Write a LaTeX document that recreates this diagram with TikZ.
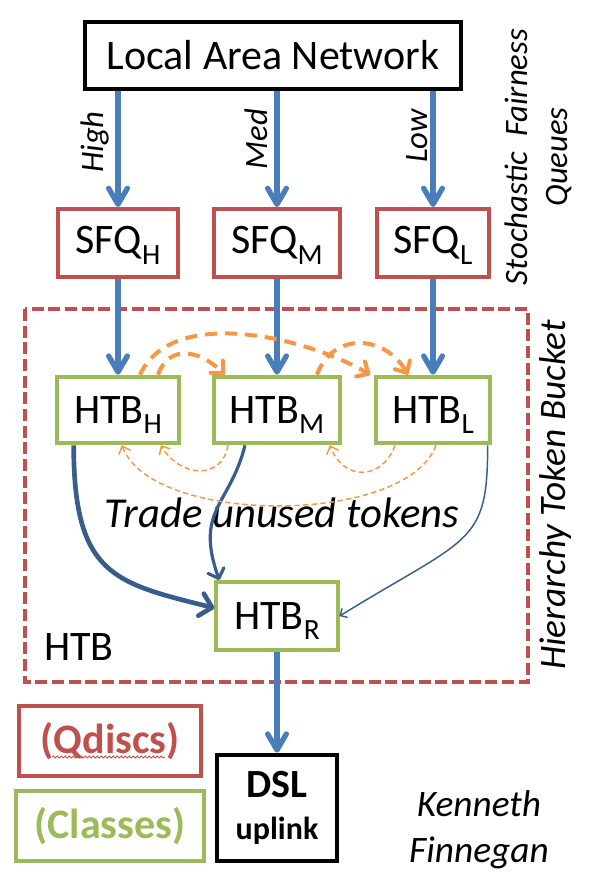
\documentclass[tikz,border=0pt]{standalone}
\usepackage{fontspec}
\setmainfont{Carlito}
\usetikzlibrary{arrows.meta,calc,decorations.pathmorphing}

\definecolor{lanblue}{HTML}{4A7EBB}
\definecolor{darkblue}{HTML}{385D8A}
\definecolor{qred}{HTML}{C0504D}
\definecolor{cgreen}{HTML}{9BBB59}
\definecolor{tokorange}{HTML}{F79646}

% subscript as in the slides
\newcommand{\lowsub}[1]{\smash{\raisebox{-0.25em}{\fontsize{22}{22}\selectfont #1}}}

\tikzset{
  box/.style={draw, line width=3pt, inner sep=0pt, align=center,
    font=\fontsize{31.5}{36}\selectfont},
  qdisc/.style={box, draw=qred},
  htbclass/.style={box, draw=cgreen},
  flow/.style={draw=lanblue, line width=4pt,
    -{Straight Barb[length=12pt, width=14pt, line width=4pt, round]}},
  borrow/.style={draw=darkblue, -{Straight Barb[round]}},
  tradebig/.style={draw=tokorange, line width=3pt, dash pattern=on 9pt off 6pt,
    -{Straight Barb[length=7pt, width=13pt, line width=3pt, round]}},
  tradesmall/.style={draw=tokorange, line width=1.1pt, dash pattern=on 4pt off 2.5pt,
    -{Straight Barb[length=5pt, width=9pt, line width=1.1pt, round]}},
  vlabel/.style={rotate=90, inner sep=0pt, font=\fontsize{24.5}{30}\selectfont\itshape}
}

\begin{document}
\begin{tikzpicture}[x=0.75pt, y=0.75pt]
  \useasboundingbox (0,0) rectangle (589,-890);

  % HTB group
  \draw[qred, line width=3pt, dash pattern=on 9pt off 3.5pt] (25,-309) rectangle (528,-682);

  % Boxes
  \node[box, minimum width=282pt, minimum height=50pt] (lan) at (273,-55.5) {Local Area Network};

  \node[qdisc, minimum width=90pt, minimum height=51pt] (sfqH) at (118,-243) {SFQ\lowsub{H}};
  \node[qdisc, minimum width=94.5pt, minimum height=51pt] (sfqM) at (277,-243) {SFQ\lowsub{M}};
  \node[qdisc, minimum width=84pt, minimum height=51pt] (sfqL) at (433,-243) {SFQ\lowsub{L}};

  \node[htbclass, minimum width=92pt, minimum height=50pt] (htbH) at (118,-410) {HTB\lowsub{H}};
  \node[htbclass, minimum width=95pt, minimum height=50pt] (htbM) at (277,-410) {HTB\lowsub{M}};
  \node[htbclass, minimum width=85pt, minimum height=50pt] (htbL) at (433,-410) {HTB\lowsub{L}};
  \node[htbclass, minimum width=91pt, minimum height=51pt] (htbR) at (277,-616) {HTB\lowsub{R}};

  \node[box, minimum width=90pt, minimum height=80pt, font=\fontsize{30}{31}\selectfont\bfseries] (dsl) at (277,-808)
    {DSL\\ \fontsize{24}{31}\selectfont uplink};

  % Legend
  \node[qdisc, minimum width=136.5pt, minimum height=52pt, text=qred, font=\fontsize{31.5}{36}\selectfont\bfseries]
    (qdiscs) at (110,-741) {(Qdiscs)};
  \node[htbclass, minimum width=141pt, minimum height=52pt, text=cgreen, font=\fontsize{31.5}{36}\selectfont\bfseries]
    (classes) at (110,-826) {(Classes)};
  \draw[qred, line width=0.6pt, decorate, decoration={snake, amplitude=0.8pt, segment length=3pt}]
    ($(qdiscs.center)+(-58,-16)$) -- ($(qdiscs.center)+(55,-16)$);

  % Texts
  \node[vlabel] (high) at (95,-142) {High};
  \node[vlabel] (med) at (256,-139) {Med};
  \node[vlabel] (low) at (417,-136) {Low};
  \node[vlabel, align=center] (sfqtitle) at (538,-157) {Stochastic\ \ Fairness\\Queues};
  \node[vlabel, font=\fontsize{28}{30}\selectfont\itshape] (htbtitle) at (556,-495) {Hierarchy Token Bucket};
  \node[font=\fontsize{31.5}{36}\selectfont] (htbtag) at (79,-647) {HTB};
  \node[font=\fontsize{32}{36}\selectfont\itshape] (trade) at (282,-513) {Trade unused tokens};
  \node[align=center, font=\fontsize{28}{34.5}\selectfont\itshape] (author) at (479,-830) {Kenneth\\Finnegan};

  % Traffic
  \draw[flow] (lan.south -| sfqH) -- (sfqH);
  \draw[flow] (lan.south -| sfqM) -- (sfqM);
  \draw[flow] (lan.south -| sfqL) -- (sfqL);
  \draw[flow] (sfqH) -- (htbH);
  \draw[flow] (sfqM) -- (htbM);
  \draw[flow] (sfqL) -- (htbL);
  \draw[flow] (htbR) -- (dsl);

  % Borrowing to root
  \draw[borrow, line width=3.5pt] ($(htbH.south west)+(19,0)$) .. controls +(0,-130) and +(-100,25) .. ($(htbR.west)+(0,8)$);
  \draw[borrow, line width=2.4pt] ($(htbM.south)+(-32,0)$) .. controls +(-15,-60) and +(-25,70) .. ($(htbR.north west)+(5,0)$);
  \draw[borrow, line width=1.1pt] ($(htbL.south east)+(-4,0)$) .. controls +(0,-100) and +(130,80) .. (htbR.east);

  % Token trades
  \draw[tradebig] ($(htbH.north)+(40,0)$) to[out=70, in=135, looseness=1.3] ($(htbM.north west)+(13,0)$);
  \draw[tradebig] ($(htbH.north)+(22,0)$) to[out=65, in=150, looseness=0.85] ($(htbL.north west)+(-4,0)$);
  \draw[tradebig] ($(htbM.north)+(40,0)$) to[out=70, in=120, looseness=1.3] ($(htbL.north)+(-25,0)$);
  \draw[tradesmall] ($(htbM.south)+(-49,0)$) to[out=-100, in=-60, looseness=1.4] ($(htbH.south)+(43,0)$);
  \draw[tradesmall] ($(htbL.south)+(3,0)$) to[out=-110, in=-70, looseness=0.7] ($(htbH.south)+(4,0)$);
  \draw[tradesmall] ($(htbL.south)+(-38,0)$) to[out=-110, in=-70, looseness=1.5] ($(htbM.south)+(53,0)$);
\end{tikzpicture}
\end{document}
